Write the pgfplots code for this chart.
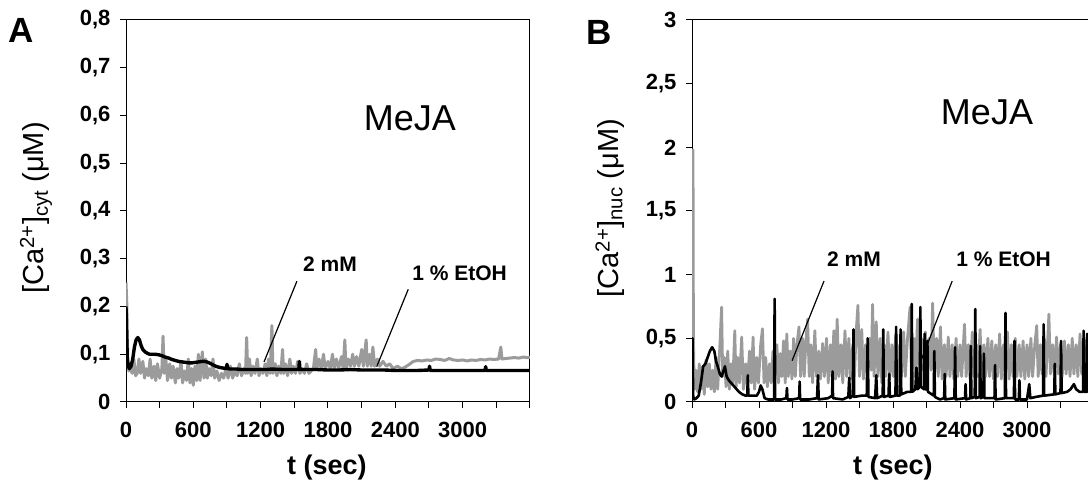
\documentclass[border=0pt]{standalone}
\usepackage{pgfplots}
\pgfplotsset{compat=1.18}
\usepackage{pgfplotstable}
\usepackage{fontspec}
\setmainfont{Liberation Sans}
\definecolor{trgray}{RGB}{155,155,155}

\pgfplotstableread{
t y
0 0.25
8 0.2
15 0.09
25 0.065
40 0.07
55 0.06
70 0.09
85 0.055
100 0.06
115 0.09
130 0.06
150 0.085
165 0.05
180 0.07
200 0.055
215 0.09
230 0.05
250 0.075
265 0.045
280 0.08
300 0.05
320 0.07
330 0.138
340 0.06
355 0.09
370 0.045
390 0.08
405 0.05
420 0.075
440 0.04
455 0.07
470 0.05
490 0.085
505 0.04
520 0.065
540 0.045
555 0.09
570 0.04
585 0.07
600 0.035
615 0.075
630 0.045
645 0.1
660 0.045
680 0.105
695 0.05
710 0.09
725 0.05
740 0.07
760 0.055
775 0.09
790 0.05
810 0.065
830 0.045
850 0.06
870 0.05
890 0.07
910 0.05
930 0.075
950 0.05
970 0.065
990 0.055
1010 0.08
1030 0.055
1050 0.07
1065 0.06
1075 0.135
1085 0.06
1100 0.09
1115 0.055
1130 0.075
1150 0.06
1170 0.09
1185 0.055
1200 0.07
1220 0.06
1240 0.08
1255 0.055
1270 0.09
1285 0.06
1300 0.16
1310 0.06
1330 0.08
1345 0.055
1360 0.075
1380 0.06
1395 0.11
1405 0.06
1420 0.08
1440 0.055
1460 0.09
1475 0.06
1490 0.075
1510 0.06
1530 0.085
1550 0.06
1570 0.07
1590 0.06
1610 0.08
1630 0.06
1650 0.065
1670 0.07
1690 0.11
1700 0.07
1720 0.09
1740 0.07
1760 0.1
1775 0.07
1800 0.085
1820 0.07
1840 0.1
1855 0.07
1875 0.09
1895 0.07
1920 0.095
1935 0.07
1950 0.13
1960 0.07
1980 0.09
2000 0.075
2020 0.1
2035 0.075
2055 0.095
2075 0.075
2100 0.11
2115 0.075
2140 0.13
2150 0.075
2170 0.1
2185 0.075
2200 0.115
2215 0.075
2240 0.09
2260 0.075
2290 0.085
2320 0.075
2350 0.08
2380 0.07
2420 0.075
2450 0.07
2480 0.072
2520 0.078
2560 0.085
2600 0.087
2640 0.086
2680 0.088
2720 0.087
2760 0.09
2800 0.089
2840 0.087
2880 0.091
2920 0.088
2960 0.087
3000 0.088
3040 0.086
3080 0.088
3120 0.087
3160 0.089
3200 0.088
3240 0.09
3280 0.089
3320 0.09
3340 0.115
3350 0.09
3380 0.091
3420 0.092
3460 0.093
3500 0.092
3540 0.094
3580 0.093
3600 0.094
}\Agray

\pgfplotstableread{
t y
0 0.2
5 0.15
12 0.09
20 0.075
30 0.07
45 0.075
60 0.09
75 0.115
90 0.13
105 0.135
120 0.13
135 0.118
150 0.11
170 0.105
190 0.102
210 0.1
230 0.1
260 0.1
290 0.099
320 0.097
350 0.094
380 0.092
410 0.089
440 0.087
470 0.085
500 0.084
530 0.083
560 0.082
590 0.082
620 0.083
650 0.084
680 0.085
700 0.085
720 0.084
750 0.081
780 0.077
810 0.074
840 0.072
870 0.071
895 0.07
900 0.079
905 0.07
930 0.069
960 0.069
990 0.069
1020 0.068
1060 0.068
1100 0.068
1180 0.068
1250 0.068
1300 0.069
1400 0.068
1500 0.068
1540 0.068
1545 0.085
1550 0.068
1600 0.068
1700 0.068
1800 0.067
1900 0.067
2000 0.068
2100 0.067
2200 0.067
2300 0.067
2400 0.066
2500 0.066
2600 0.066
2700 0.067
2705 0.075
2710 0.066
2800 0.066
2900 0.066
3000 0.066
3100 0.066
3200 0.066
3205 0.074
3210 0.066
3300 0.066
3400 0.066
3500 0.066
3600 0.066
}\Ablack

\pgfplotstableread{
t y
0 0.25
5 0.6
9 1.98
13 0.5
18 0.2
25 0.1
35 0.25
50 0.08
65 0.3
80 0.1
95 0.28
110 0.06
125 0.33
140 0.12
155 0.3
170 0.1
185 0.25
200 0.08
215 0.35
230 0.1
250 0.45
265 0.745
275 0.2
290 0.35
305 0.12
320 0.4
335 0.1
350 0.3
365 0.15
383 0.56
395 0.12
410 0.35
425 0.15
445 0.51
460 0.1
480 0.3
495 0.12
515 0.4
530 0.15
547 0.51
560 0.1
580 0.35
595 0.15
615 0.45
631 0.575
645 0.15
660 0.35
675 0.12
695 0.3
710 0.15
725 0.4
740 0.18
760 0.45
775 0.15
790 0.38
805 0.2
820 0.48
835 0.15
849 0.535
862 0.2
880 0.4
895 0.18
910 0.5
925 0.2
940 0.45
958 0.59
972 0.2
990 0.5
1005 0.2
1020 0.48
1035 0.65
1050 0.2
1065 0.45
1080 0.15
1100 0.56
1115 0.2
1135 0.4
1150 0.18
1170 0.46
1185 0.2
1205 0.5
1220 0.15
1240 0.45
1255 0.2
1270 0.56
1285 0.18
1300 0.65
1315 0.2
1335 0.45
1350 0.15
1370 0.56
1385 0.2
1405 0.5
1420 0.18
1440 0.45
1455 0.2
1470 0.55
1486 0.76
1500 0.2
1520 0.57
1535 0.18
1555 0.45
1570 0.2
1590 0.5
1605 0.25
1617 0.766
1630 0.2
1650 0.63
1665 0.2
1685 0.5
1700 0.15
1720 0.45
1735 0.2
1755 0.55
1770 0.18
1790 0.45
1805 0.2
1825 0.535
1840 0.15
1860 0.45
1875 0.2
1895 0.55
1910 0.2
1930 0.5
1953 0.745
1965 0.2
1985 0.5
2000 0.2
2020 0.65
2035 0.2
2055 0.5
2070 0.25
2090 0.55
2105 0.2
2125 0.5
2140 0.25
2155 0.776
2170 0.2
2190 0.5
2205 0.2
2225 0.59
2240 0.18
2260 0.45
2275 0.2
2295 0.51
2310 0.2
2330 0.45
2345 0.18
2365 0.5
2380 0.2
2400 0.45
2415 0.2
2440 0.61
2455 0.2
2475 0.45
2490 0.18
2510 0.55
2525 0.2
2545 0.45
2560 0.2
2580 0.57
2595 0.18
2615 0.45
2630 0.2
2650 0.5
2665 0.2
2685 0.48
2700 0.18
2720 0.45
2735 0.2
2755 0.535
2770 0.18
2790 0.45
2805 0.2
2825 0.55
2840 0.18
2860 0.45
2875 0.2
2895 0.5
2910 0.2
2930 0.45
2945 0.2
2965 0.48
2980 0.18
3000 0.45
3015 0.2
3035 0.5
3050 0.2
3070 0.45
3087 0.6
3100 0.2
3120 0.45
3135 0.22
3155 0.5
3170 0.2
3196 0.69
3210 0.22
3230 0.45
3245 0.2
3265 0.51
3280 0.22
3300 0.45
3315 0.2
3335 0.48
3350 0.22
3370 0.45
3385 0.2
3405 0.5
3420 0.22
3440 0.45
3455 0.2
3475 0.535
3490 0.22
3510 0.45
3525 0.2
3545 0.5
3560 0.22
3580 0.45
3600 0.2
}\Bgray

\pgfplotstableread{
t y
0 0.05
5 0.5
10 0.05
20 0.02
40 0.03
60 0.05
80 0.15
100 0.28
120 0.3
140 0.35
160 0.4
180 0.43
200 0.4
215 0.32
230 0.28
250 0.22
265 0.2
280 0.24
295 0.28
310 0.2
330 0.17
360 0.14
390 0.11
420 0.08
450 0.06
480 0.05
495 0.05
500 0.21
505 0.05
540 0.05
580 0.05
600 0.08
615 0.13
630 0.1
650 0.03
680 0.02
735 0.02
740 0.81
745 0.02
800 0.02
845 0.03
850 0.11
855 0.02
900 0.02
960 0.03
964 0.16
968 0.02
1050 0.02
1120 0.03
1128 0.21
1135 0.02
1220 0.03
1255 0.05
1259 0.24
1263 0.03
1350 0.02
1400 0.04
1408 0.19
1415 0.03
1440 0.05
1446 0.57
1452 0.04
1520 0.05
1565 0.05
1573 0.5
1580 0.04
1640 0.03
1650 0.21
1658 0.03
1708 0.05
1713 0.57
1718 0.04
1760 0.05
1766 0.22
1772 0.04
1822 0.05
1828 0.59
1834 0.05
1862 0.05
1868 0.57
1874 0.06
1930 0.08
1963 0.08
1968 0.77
1973 0.08
2000 0.1
2010 0.27
2020 0.1
2040 0.12
2045 0.745
2050 0.12
2078 0.1
2083 0.535
2088 0.1
2103 0.1
2108 0.48
2113 0.08
2165 0.05
2170 0.4
2175 0.04
2220 0.02
2258 0.03
2263 0.22
2268 0.02
2350 0.03
2356 0.43
2362 0.02
2445 0.03
2450 0.14
2455 0.02
2492 0.03
2497 0.44
2502 0.03
2532 0.04
2537 0.73
2542 0.03
2575 0.04
2580 0.44
2585 0.03
2609 0.04
2614 0.38
2619 0.03
2709 0.03
2714 0.29
2719 0.02
2802 0.03
2807 0.7
2812 0.03
2883 0.03
2888 0.48
2893 0.02
2927 0.02
2932 0.17
2937 0.02
3000 0.02
3020 0.14
3030 0.03
3080 0.04
3144 0.05
3149 0.61
3154 0.05
3244 0.06
3249 0.3
3254 0.06
3300 0.07
3305 0.48
3310 0.07
3360 0.08
3390 0.1
3420 0.14
3440 0.1
3470 0.08
3502 0.08
3507 0.56
3512 0.08
3533 0.08
3538 0.535
3543 0.08
3600 0.08
}\Bblack

\pgfplotsset{
  panel/.style={
    scale only axis,
    anchor=south west,
    height=382pt,
    xmin=0, xmax=3600,
    ymin=0,
    axis line style={line width=1pt},
    tick style={line width=1pt, black},
    tick align=outside,
    major tick length=6pt,
    xtick pos=bottom, ytick pos=left,
    xtick={0,300,...,3600},
    xticklabels={0,,600,,1200,,1800,,2400,,3000,,},
    /pgf/number format/assume math mode=true,
    /pgf/number format/use comma,
    /pgf/number format/fixed,
    /pgf/number format/precision=1,
    ticklabel style={font=\fontsize{22}{25}\selectfont\bfseries},
    xticklabel style={yshift=-11pt},
    yticklabel style={xshift=-6pt},
  },
}

\begin{document}
\begin{tikzpicture}[x=1pt,y=1pt]
\begin{axis}[panel, at={(126pt,85pt)}, width=404pt, ymax=0.8,
  ytick={0,0.1,...,0.8}]
\addplot[trgray, line width=3pt, line join=round] table[x=t,y=y] {\Agray};
\addplot[black, line width=3.4pt, line join=round] table[x=t,y=y] {\Ablack};
\draw[line width=1.2pt] (axis cs:1523,0.253) -- (axis cs:1230,0.084);
\draw[line width=1.2pt] (axis cs:2515,0.236) -- (axis cs:2234,0.074);
\node[font=\fontsize{21}{24}\selectfont\bfseries] at (axis cs:1818,0.288) {2 mM};
\node[font=\fontsize{21}{24}\selectfont\bfseries] at (axis cs:2972,0.269) {1 \% EtOH};
\end{axis}

\begin{axis}[panel, at={(692pt,85pt)}, width=402pt, ymax=3,
  ytick={0,0.5,...,3}]
\addplot[trgray, line width=2.8pt, line join=round] table[x=t,y=y] {\Bgray};
\addplot[black, line width=2.6pt, line join=round] table[x=t,y=y] {\Bblack};
\draw[line width=1.2pt] (axis cs:1182,0.95) -- (axis cs:896,0.324);
\draw[line width=1.2pt] (axis cs:2330,0.95) -- (axis cs:2041,0.304);
\node[font=\fontsize{21}{24}\selectfont\bfseries] at (axis cs:1451,1.119) {2 mM};
\node[font=\fontsize{21}{24}\selectfont\bfseries] at (axis cs:2790,1.119) {1 \% EtOH};
\end{axis}

\node[font=\fontsize{35}{40}\selectfont\bfseries] at (21.5,456.5) {A};
\node[font=\fontsize{35}{40}\selectfont\bfseries] at (599,455) {B};
\node[font=\fontsize{36}{40}\selectfont] at (410,369) {MeJA};
\node[font=\fontsize{36}{40}\selectfont] at (987,375) {MeJA};
\node[rotate=90, font=\fontsize{29}{32}\selectfont] at (36,279) {[Ca\textsuperscript{2+}]\textsubscript{cyt} (μM)};
\node[rotate=90, font=\fontsize{29}{32}\selectfont] at (610,279) {[Ca\textsuperscript{2+}]\textsubscript{nuc} (μM)};
\node[font=\fontsize{27}{30}\selectfont\bfseries] at (327,19) {t (sec)};
\node[font=\fontsize{27}{30}\selectfont\bfseries] at (893,19) {t (sec)};

\pgfresetboundingbox
\path[use as bounding box] (0,0) rectangle (1088,487);
\end{tikzpicture}
\end{document}
